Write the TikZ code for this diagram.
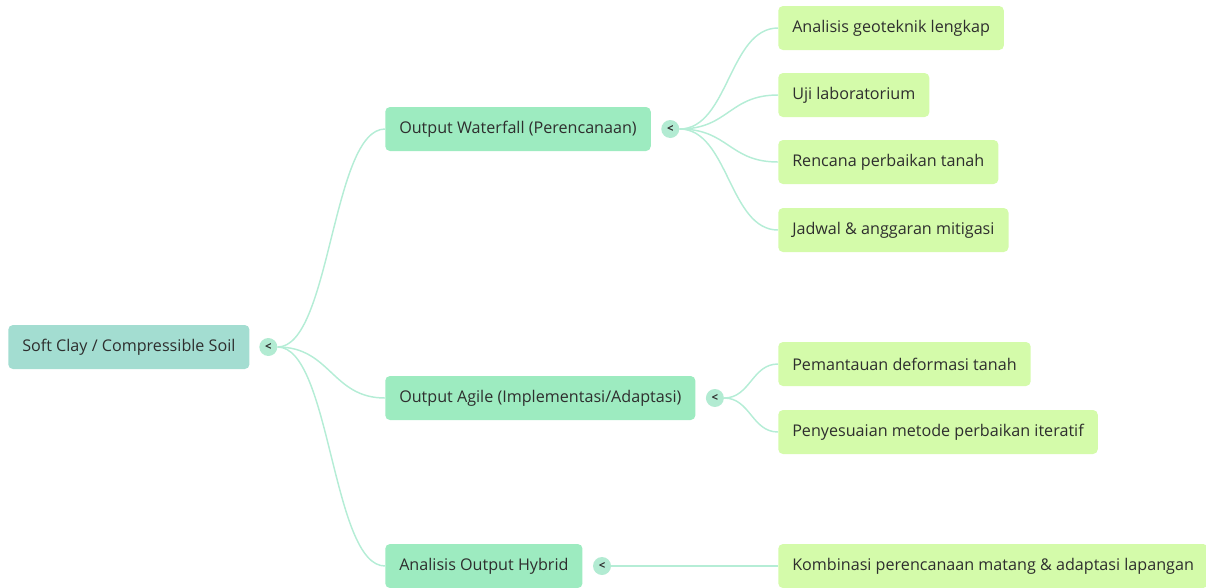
\documentclass[tikz,border=0pt]{standalone}
\usepackage{fontspec}
\setmainfont{Open Sans}
\usetikzlibrary{positioning}

\definecolor{rootfill}{HTML}{A3DDD1}
\definecolor{midfill}{HTML}{9DEBC0}
\definecolor{leaffill}{HTML}{D4FBAA}
\definecolor{linkcol}{HTML}{B5EDD6}
\definecolor{knobfill}{HTML}{B2EBD2}
\definecolor{labeltext}{HTML}{2E2E2E}

\begin{document}
\begin{tikzpicture}[
    x=0.75pt, y=-0.75pt,
    font=\fontsize{12.1}{14}\selectfont,
    topic/.style={rectangle, rounded corners=3.5pt, anchor=west, text=labeltext,
                  inner xsep=10.5pt, minimum height=33pt},
    rootbox/.style={topic, fill=rootfill},
    midbox/.style={topic, fill=midfill},
    leafbox/.style={topic, fill=leaffill},
    knob/.style={circle, fill=knobfill, inner sep=0pt, minimum size=13.5pt,
                 font=\fontsize{8.5}{9}\selectfont\bfseries, text=labeltext},
    link/.style={draw=linkcol, line width=1.1pt}
]
\useasboundingbox (0,0) rectangle (1206,587);

% root
\node[rootbox] (soil) at (8,347) {Soft Clay / Compressible Soil};
\node[knob, right=7pt of soil] (soilk) {<};

% second level
\node[midbox] (wfall) at (385,129) {Output Waterfall (Perencanaan)};
\node[midbox] (agile) at (385,398) {Output Agile (Implementasi/Adaptasi)};
\node[midbox] (hybrid) at (385,566) {Analisis Output Hybrid};
\node[knob, right=7.5pt of wfall] (wfallk) {<};
\node[knob, right=7.5pt of agile] (agilek) {<};
\node[knob, right=7.5pt of hybrid] (hybridk) {<};

% leaves
\node[leafbox] (geo) at (778,28) {Analisis geoteknik lengkap};
\node[leafbox] (lab) at (778,95) {Uji laboratorium};
\node[leafbox] (plan) at (778,162) {Rencana perbaikan tanah};
\node[leafbox] (sched) at (778,230) {Jadwal \& anggaran mitigasi};
\node[leafbox] (watch) at (778,364) {Pemantauan deformasi tanah};
\node[leafbox] (iter) at (778,432) {Penyesuaian metode perbaikan iteratif};
\node[leafbox] (combo) at (778,566) {Kombinasi perencanaan matang \& adaptasi lapangan};

% links
\foreach \kid in {wfall,agile,hybrid}
  \draw[link] (soilk.east) .. controls +(53,0) and +(-53,0) .. (\kid.west);
\foreach \kid in {geo,lab,plan,sched}
  \draw[link] (wfallk.east) .. controls +(49,0) and +(-49,0) .. (\kid.west);
\foreach \kid in {watch,iter}
  \draw[link] (agilek.east) .. controls +(26,0) and +(-26,0) .. (\kid.west);
\draw[link] (hybridk.east) -- (combo.west);
\end{tikzpicture}
\end{document}
